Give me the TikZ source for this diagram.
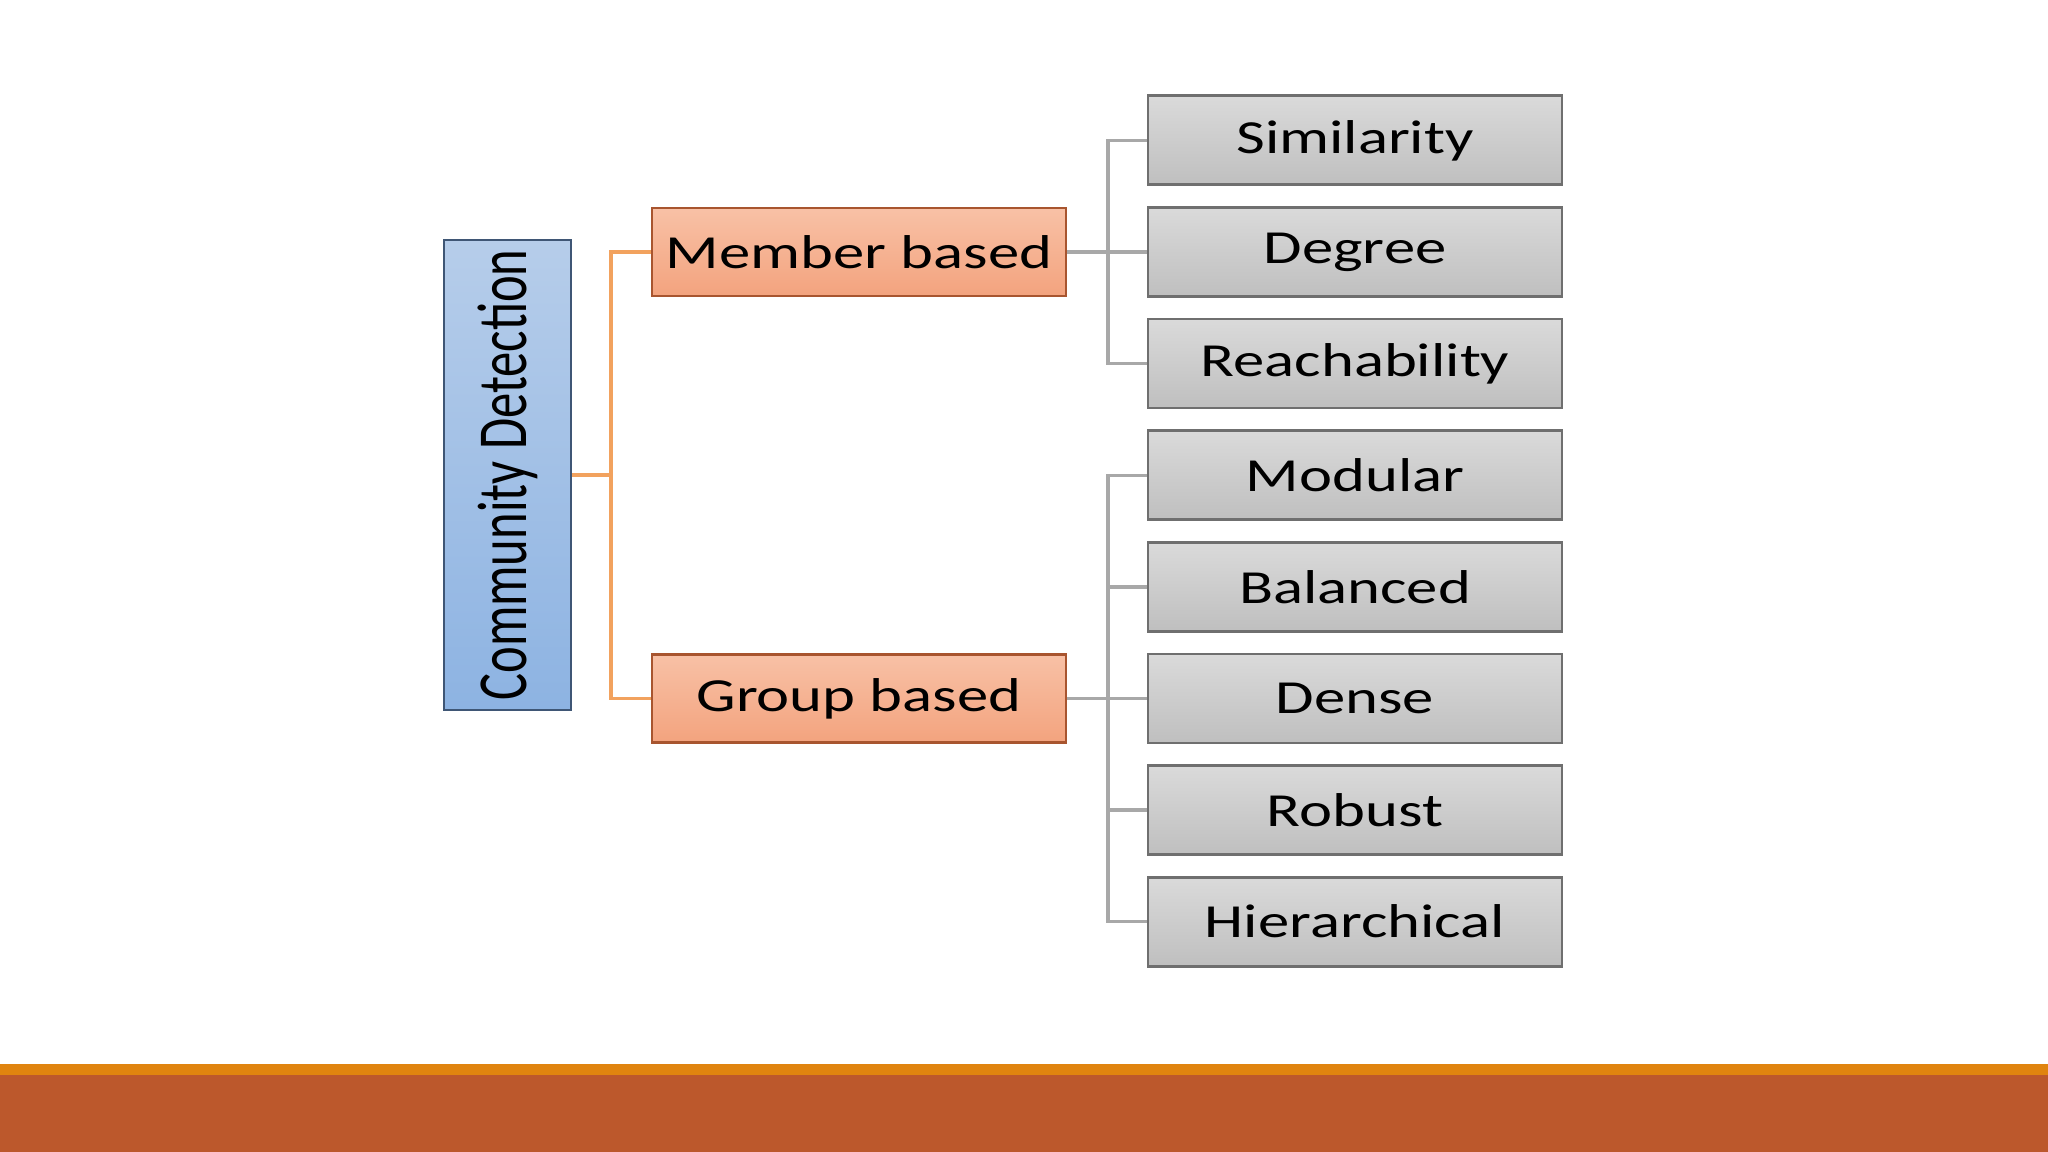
\documentclass[tikz,border=0pt]{standalone}
\usepackage{fontspec}
\setmainfont{Carlito}
\newfontfamily\boxfont[FakeStretch=1.32]{Carlito}
\newfontfamily\vertfont[FakeStretch=0.72]{Carlito}
\definecolor{cdtop}{HTML}{B6CDEA}
\definecolor{cdbot}{HTML}{8DB3E2}
\definecolor{cdline}{HTML}{3F5675}
\definecolor{ortop}{HTML}{F8C1A6}
\definecolor{orbot}{HTML}{F3A37E}
\definecolor{orline}{HTML}{A8552F}
\definecolor{grtop}{HTML}{DADADA}
\definecolor{grbot}{HTML}{BFBFBF}
\definecolor{grline}{HTML}{6F6F6F}
\definecolor{conor}{HTML}{F2A25E}
\definecolor{congr}{HTML}{A8A8A8}
\definecolor{barorange}{HTML}{E0840F}
\definecolor{bardark}{HTML}{BC582C}
\tikzset{
  rootbox/.style={draw=cdline, line width=0.8pt, top color=cdtop, bottom color=cdbot, minimum width=1.27cm, minimum height=4.70cm, inner sep=0pt},
  midbox/.style={draw=orline, line width=0.8pt, top color=ortop, bottom color=orbot, minimum width=4.14cm, minimum height=0.88cm, inner sep=0pt, font=\boxfont\fontsize{13.5}{15}\selectfont},
  leafbox/.style={draw=grline, line width=0.8pt, top color=grtop, bottom color=grbot, minimum width=4.14cm, minimum height=0.89cm, inner sep=0pt, font=\boxfont\fontsize{13.5}{15}\selectfont},
  orconn/.style={draw=conor, line width=1pt},
  grconn/.style={draw=congr, line width=1pt}
}
\begin{document}
\begin{tikzpicture}
\useasboundingbox (0,0) rectangle (20.48,11.52);
\fill[white] (0,0) rectangle (20.48,11.52);
\fill[bardark] (0,0) rectangle (20.48,0.77);
\fill[barorange] (0,0.77) rectangle (20.48,0.88);

\node[rootbox] (cd) at (5.075,6.77) {};
\node[rotate=90, font=\vertfont\fontsize{20}{22}\selectfont] (cdtext) at (cd.center) {Community Detection};

\node[midbox] (mb) at (8.59,9.00) {Member based};
\node[midbox] (gb) at (8.59,4.535) {Group based};

\node[leafbox] (sim) at (13.55,10.116) {Similarity};
\node[leafbox] (deg) at (13.55,9.00) {Degree};
\node[leafbox] (rea) at (13.55,7.884) {Reachability};
\node[leafbox] (mod) at (13.55,6.767) {Modular};
\node[leafbox] (bal) at (13.55,5.651) {Balanced};
\node[leafbox] (den) at (13.55,4.535) {Dense};
\node[leafbox] (rob) at (13.55,3.419) {Robust};
\node[leafbox] (hie) at (13.55,2.303) {Hierarchical};

\coordinate (ob) at (6.11,6.77);
\coordinate (gx) at (11.08,0);

\draw[orconn] (cd.east) -- (ob);
\draw[orconn] (mb.west) -| (ob) |- (gb.west);

\draw[grconn] (mb.east) -- (deg.west);
\draw[grconn] (sim.west) -- (sim.west -| gx) -- (rea.west -| gx) -- (rea.west);

\draw[grconn] (gb.east) -- (den.west);
\draw[grconn] (mod.west) -- (mod.west -| gx) -- (hie.west -| gx) -- (hie.west);
\draw[grconn] (bal.west -| gx) -- (bal.west);
\draw[grconn] (rob.west -| gx) -- (rob.west);
\end{tikzpicture}
\end{document}
